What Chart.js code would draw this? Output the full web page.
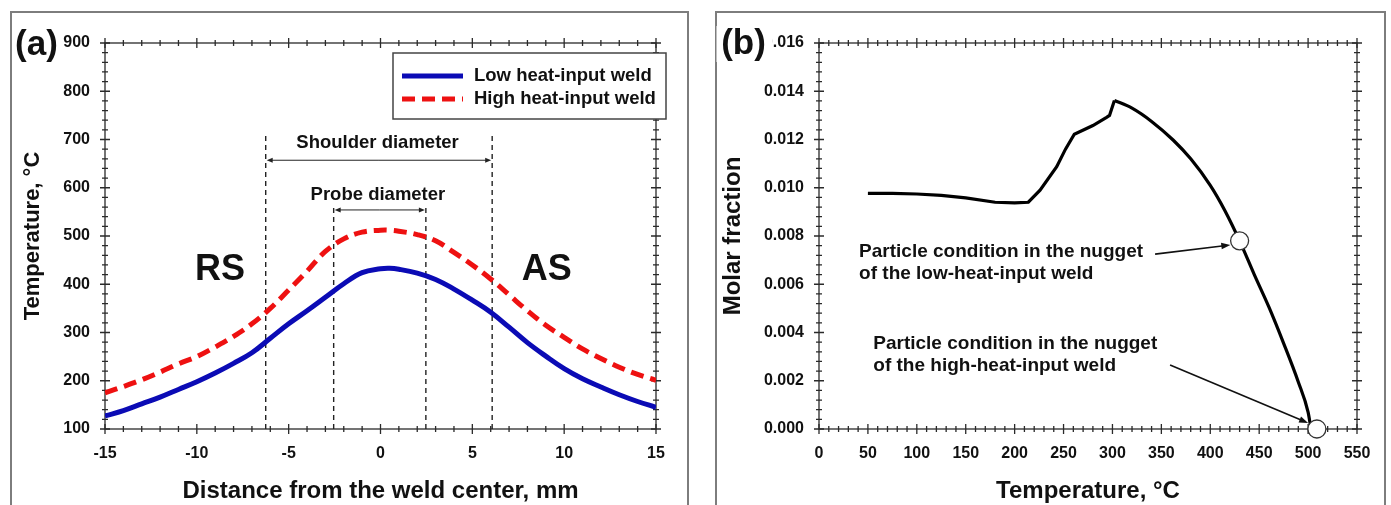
<!DOCTYPE html>
<html>
<head>
<meta charset="utf-8">
<script src="https://cdn.jsdelivr.net/npm/chart.js@4.4.1/dist/chart.umd.min.js"></script>
<style>
    html, body { margin: 0; padding: 0; background: #fff; width: 1391px; height: 505px; overflow: hidden; }
    .panel { position: absolute; border: 2px solid #7d7d7d; box-sizing: border-box; }
    canvas { position: absolute; top: 0; }
</style>
</head>
<body>
<div class="panel" style="left:10px; top:11px; width:679px; height:520px;"></div>
<div class="panel" style="left:715px; top:11px; width:671px; height:520px;"></div>
<canvas id="chartA" width="700" height="505" style="left:0;"></canvas>
<canvas id="chartB" width="691" height="505" style="left:700px;"></canvas>

<script>
// ---- panel (a): peak temperature across the weld ----
const distanceMm   = [-15,-14,-13,-12,-11,-10,-9,-8,-7,-6,-5,-4,-3,-2,-1,0,0.5,1,2,3,4,5,6,7,8,9,10,11,12,13,14,15];
const lowHeatTemp  = [127,138,152,166,182,198,216,236,258,288,318,345,373,401,424,432,433,431,423,410,390,367,342,311,279,251,225,204,187,171,157,145];
const highHeatTemp = [175,188,202,218,235,250,270,292,318,350,388,427,468,494,508,512,512,510,503,490,466,440,411,378,345,315,290,266,246,228,213,201];
const seriesNames  = ['Low heat-input weld', 'High heat-input weld'];

// tool geometry (mm) and where the marker lines stop (°C)
const shoulderEdges = [-6.25, 6.08];
const probeEdges    = [-2.55, 2.47];
const shoulderTop = 709, shoulderArrowAt = 657, shoulderLabelAt = 693;
const probeTop = 560, probeArrowAt = 554, probeLabelAt = 585;

// ---- panel (b): molar fraction vs temperature ----
const tempRise = [50,75,100,125,150,180,200,214,226,243,252,261,280,294,297,302];
const fracRise = [0.00977,0.00977,0.00974,0.00968,0.00958,0.00940,0.00937,0.00940,0.00990,0.01087,0.01160,0.01222,0.01258,0.01292,0.01300,0.01362];
const tempDrop = [302,320,340,362,380,400,415,430,445,460,475,490,500,503];
const fracDrop = [0.01362,0.01330,0.01275,0.01198,0.01120,0.01010,0.00905,0.00780,0.00640,0.00505,0.00355,0.00195,0.00070,0.0];
const markerTemp = [430, 509];
const markerFrac = [0.0078, 0.0];

const noteLines = [
    ['Particle condition in the nugget', 'of the low-heat-input weld'],
    ['Particle condition in the nugget', 'of the high-heat-input weld']
];
const noteAnchor = [[41, 0.00735], [55.5, 0.00355]];          // text left / first row
const noteArrowFrom = [[343.6, 0.00725], [358.9, 0.00265]];
const noteArrowTo   = [[420.5, 0.00763], [500, 0.00025]];

const FONT = "'Liberation Sans', Arial, Helvetica, sans-serif";
const INK = '#111';

function pts(xs, ys) { return xs.map((v, i) => ({ x: v, y: ys[i] })); }

function arrowHead(ctx, x1, y1, x2, y2, len, half) {
    const a = Math.atan2(y2 - y1, x2 - x1);
    ctx.beginPath();
    ctx.moveTo(x1, y1);
    ctx.lineTo(x2 - Math.cos(a) * len * 0.7, y2 - Math.sin(a) * len * 0.7);
    ctx.stroke();
    ctx.beginPath();
    ctx.moveTo(x2, y2);
    ctx.lineTo(x2 - len * Math.cos(a) + half * Math.sin(a), y2 - len * Math.sin(a) - half * Math.cos(a));
    ctx.lineTo(x2 - len * Math.cos(a) - half * Math.sin(a), y2 - len * Math.sin(a) + half * Math.cos(a));
    ctx.closePath();
    ctx.fill();
}

// axis box with ticks crossing the frame on all four sides (drawn under the data)
const frameTicks = {
    id: 'frameTicks',
    beforeDatasetsDraw(chart, args, opts) {
        const { ctx, chartArea: a, scales: { x, y } } = chart;
        const isMajor = (v, step) => Math.abs(v / step - Math.round(v / step)) < 1e-6;
        ctx.save();
        ctx.strokeStyle = '#2a2a2a';
        ctx.lineWidth = 1.3;
        ctx.strokeRect(a.left, a.top, a.right - a.left, a.bottom - a.top);
        ctx.beginPath();
        const nx = Math.round((x.max - x.min) / opts.xMinor);
        for (let i = 0; i <= nx; i++) {
            const v = x.min + i * opts.xMinor;
            const h = isMajor(v, opts.xMajor) ? 5 : 3;
            const px = x.getPixelForValue(v);
            ctx.moveTo(px, a.bottom - h); ctx.lineTo(px, a.bottom + h);
            ctx.moveTo(px, a.top - h); ctx.lineTo(px, a.top + h);
        }
        const ny = Math.round((y.max - y.min) / opts.yMinor);
        for (let i = 0; i <= ny; i++) {
            const v = y.min + i * opts.yMinor;
            const h = isMajor(v, opts.yMajor) ? 5 : 3;
            const py = y.getPixelForValue(v);
            ctx.moveTo(a.left - h, py); ctx.lineTo(a.left + h, py);
            ctx.moveTo(a.right - h, py); ctx.lineTo(a.right + h, py);
        }
        ctx.stroke();
        ctx.restore();
    }
};

function panelLetter(ctx, text, cx, cy, clearBg) {
    ctx.save();
    ctx.font = `bold 35px ${FONT}`;
    if (clearBg) {
        ctx.fillStyle = '#fff';
        ctx.fillRect(cx - 27, cy - 18, 56, 36);
    }
    ctx.fillStyle = INK;
    ctx.textAlign = 'center';
    ctx.textBaseline = 'middle';
    ctx.fillText(text, cx, cy);
    ctx.restore();
}

const weldNotes = {
    id: 'weldNotes',
    beforeDatasetsDraw(chart) {
        const { ctx, scales: { x, y } } = chart;
        ctx.save();
        ctx.strokeStyle = '#222';
        ctx.lineWidth = 1.4;
        ctx.setLineDash([5, 4]);
        const vline = (v, top) => {
            ctx.beginPath();
            ctx.moveTo(x.getPixelForValue(v), y.getPixelForValue(y.min));
            ctx.lineTo(x.getPixelForValue(v), y.getPixelForValue(top));
            ctx.stroke();
        };
        shoulderEdges.forEach(v => vline(v, shoulderTop));
        probeEdges.forEach(v => vline(v, probeTop));
        ctx.restore();
    },
    afterDatasetsDraw(chart) {
        const { ctx, chartArea: a, scales: { x, y } } = chart;
        ctx.save();
        ctx.strokeStyle = '#222';
        ctx.fillStyle = '#222';
        ctx.lineWidth = 1;
        const span = (edges, level) => {
            const l = x.getPixelForValue(edges[0]), r = x.getPixelForValue(edges[1]);
            const py = y.getPixelForValue(level);
            const mid = (l + r) / 2;
            arrowHead(ctx, mid, py, l + 1, py, 6, 2.5);
            arrowHead(ctx, mid, py, r - 1, py, 6, 2.5);
        };
        span(shoulderEdges, shoulderArrowAt);
        span(probeEdges, probeArrowAt);

        ctx.fillStyle = INK;
        ctx.textAlign = 'center';
        ctx.textBaseline = 'middle';
        ctx.font = `bold 18.5px ${FONT}`;
        ctx.fillText('Shoulder diameter', x.getPixelForValue(-0.16), y.getPixelForValue(shoulderLabelAt));
        ctx.fillText('Probe diameter', x.getPixelForValue(-0.14), y.getPixelForValue(probeLabelAt));

        ctx.font = `bold 36px ${FONT}`;
        ctx.fillText('RS', x.getPixelForValue(-8.74), y.getPixelForValue(430));
        ctx.fillText('AS', x.getPixelForValue(9.05), y.getPixelForValue(430));

        // legend box, poking out past the right frame like the original
        const bx = a.right - 263, by = a.top + 10, bw = 273, bh = 66;
        ctx.fillStyle = '#fff';
        ctx.fillRect(bx, by, bw, bh);
        ctx.strokeStyle = '#444';
        ctx.lineWidth = 1.5;
        ctx.strokeRect(bx, by, bw, bh);
        chart.data.datasets.forEach((ds, i) => {
            const ly = by + 23 + i * 23;
            ctx.strokeStyle = ds.borderColor;
            ctx.lineWidth = 5;
            ctx.setLineDash(ds.borderDash || []);
            ctx.lineCap = 'butt';
            ctx.beginPath();
            ctx.moveTo(bx + 9, ly);
            ctx.lineTo(bx + 70, ly);
            ctx.stroke();
            ctx.setLineDash([]);
            ctx.fillStyle = INK;
            ctx.textAlign = 'left';
            ctx.font = `bold 18.5px ${FONT}`;
            ctx.fillText(ds.label, bx + 81, ly);
        });
        ctx.restore();
        panelLetter(ctx, '(a)', 36.5, 45, false);
    }
};

const particleNotes = {
    id: 'particleNotes',
    afterDatasetsDraw(chart) {
        const { ctx, scales: { x, y } } = chart;
        ctx.save();
        ctx.fillStyle = INK;
        ctx.font = `bold 19px ${FONT}`;
        ctx.textAlign = 'left';
        ctx.textBaseline = 'middle';
        noteLines.forEach((lines, i) => {
            const tx = x.getPixelForValue(noteAnchor[i][0]);
            const ty = y.getPixelForValue(noteAnchor[i][1]);
            lines.forEach((t, k) => ctx.fillText(t, tx, ty + k * 22));
        });
        ctx.strokeStyle = '#111';
        ctx.fillStyle = '#111';
        ctx.lineWidth = 1.6;
        noteArrowFrom.forEach((f, i) => {
            const t = noteArrowTo[i];
            arrowHead(ctx, x.getPixelForValue(f[0]), y.getPixelForValue(f[1]),
                x.getPixelForValue(t[0]), y.getPixelForValue(t[1]), 9, 3.2);
        });
        ctx.restore();
        panelLetter(ctx, '(b)', 43.5, 44, true);
    }
};

const tickFont = { family: FONT, size: 16, weight: 'bold' };

function xAxis(min, max, step, title, fmt) {
    return {
        type: 'linear', min, max,
        ticks: { stepSize: step, font: tickFont, color: INK, padding: 15, autoSkip: false, maxRotation: 0,
                 callback: fmt || (v => v) },
        grid: { display: false, drawTicks: false },
        border: { display: false },
        title: { display: true, text: title, color: INK, padding: 0,
                 font: { family: FONT, size: 24, weight: 'bold', lineHeight: 1.1 } },
        afterFit: s => { s.height = 76; }
    };
}

function yAxis(min, max, step, title, titleSize, titlePad, width, fmt) {
    return {
        type: 'linear', min, max,
        ticks: { stepSize: step, font: tickFont, color: INK, padding: 15, autoSkip: false,
                 callback: fmt || (v => v) },
        grid: { display: false, drawTicks: false },
        border: { display: false },
        title: { display: true, text: title, color: INK, padding: { top: titlePad, bottom: 0 },
                 font: { family: FONT, size: titleSize, weight: 'bold', lineHeight: 1.2 } },
        afterFit: s => { s.width = width; }
    };
}

new Chart(document.getElementById('chartA'), {
    type: 'line',
    data: {
        datasets: [{
            label: seriesNames[0],
            data: pts(distanceMm, lowHeatTemp),
            borderColor: '#0b0bb5',
            borderWidth: 5,
            pointRadius: 0,
            tension: 0.4
        }, {
            label: seriesNames[1],
            data: pts(distanceMm, highHeatTemp),
            borderColor: '#ee1111',
            borderWidth: 5,
            borderDash: [13, 7],
            pointRadius: 0,
            tension: 0.4
        }]
    },
    options: {
        responsive: false,
        devicePixelRatio: 1,
        animation: false,
        layout: { padding: { top: 43, right: 44, left: 0, bottom: 0 } },
        plugins: {
            legend: { display: false },
            tooltip: { enabled: false },
            frameTicks: { xMinor: 1, xMajor: 5, yMinor: 20, yMajor: 100 }
        },
        scales: {
            x: xAxis(-15, 15, 5, 'Distance from the weld center, mm'),
            y: yAxis(100, 900, 100, 'Temperature, °C', 22, 20, 105)
        }
    },
    plugins: [frameTicks, weldNotes]
});

new Chart(document.getElementById('chartB'), {
    type: 'line',
    data: {
        datasets: [{
            label: 'Particle conditions',
            data: pts(markerTemp, markerFrac),
            showLine: false,
            pointRadius: 9,
            pointBackgroundColor: '#fff',
            pointBorderColor: '#333',
            pointBorderWidth: 1.3,
            clip: false
        }, {
            label: 'Dissolution',
            data: pts(tempDrop, fracDrop),
            borderColor: '#000',
            borderWidth: 3.2,
            pointRadius: 0,
            cubicInterpolationMode: 'monotone'
        }, {
            label: 'Low temperature',
            data: pts(tempRise, fracRise),
            borderColor: '#000',
            borderWidth: 3.2,
            pointRadius: 0,
            tension: 0
        }]
    },
    options: {
        responsive: false,
        devicePixelRatio: 1,
        animation: false,
        layout: { padding: { top: 43, right: 34, left: 0, bottom: 0 } },
        plugins: {
            legend: { display: false },
            tooltip: { enabled: false },
            frameTicks: { xMinor: 10, xMajor: 50, yMinor: 0.0004, yMajor: 0.002 }
        },
        scales: {
            x: xAxis(0, 550, 50, 'Temperature, °C'),
            y: yAxis(0, 0.016, 0.002, 'Molar fraction', 24, 19, 119, v => v.toFixed(3))
        }
    },
    plugins: [frameTicks, particleNotes]
});
</script>
</body>
</html>
